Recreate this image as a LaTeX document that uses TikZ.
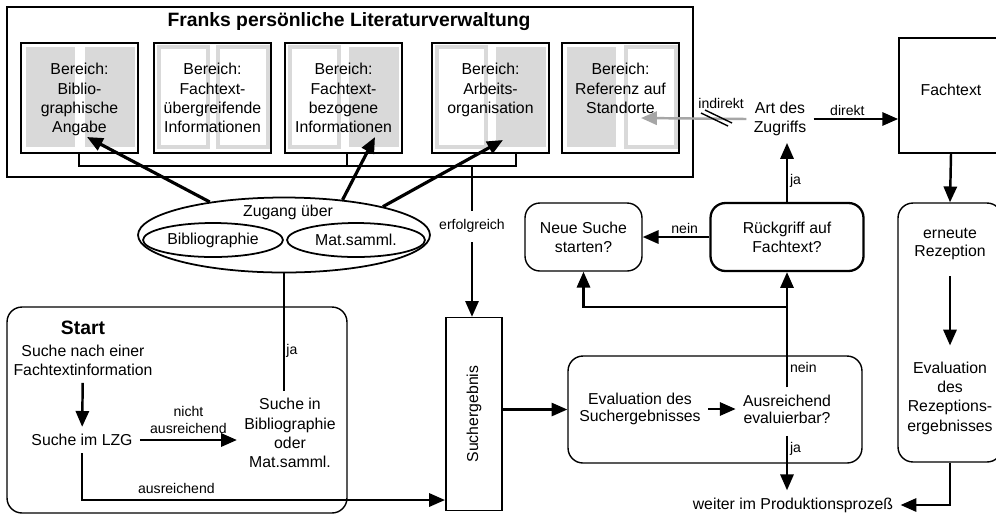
\documentclass[tikz,border=0pt]{standalone}
\usepackage{fontspec}
\setmainfont{Liberation Sans}
\usetikzlibrary{arrows.meta,shapes.geometric}

\tikzset{
  pfeil/.style={line width=1.4pt,-{Triangle[length=9pt,width=7.5pt]}},
  dickpfeil/.style={line width=1.8pt,-{Triangle[length=9pt,width=7.5pt]}},
  txt/.style={font=\fontsize{9}{11}\selectfont,align=center,inner sep=4pt},
  klein/.style={font=\fontsize{8}{9.5}\selectfont,align=center,inner sep=1pt},
  fett/.style={font=\bfseries\fontsize{11}{13}\selectfont},
  bereich/.style={draw,line width=0.8pt,minimum width=2.34cm,minimum height=2.2cm,inner sep=0pt,outer sep=0pt},
  rund/.style={draw,line width=0.8pt,rounded corners=8.5pt,align=center,font=\fontsize{9}{11}\selectfont,inner sep=0pt},
  voll/.style={fill=black!15},
  leer/.style={draw=black!15,line width=2pt},
}

\begin{document}
\begin{tikzpicture}[x=0.02cm,y=-0.02cm]
  \fill[white] (0,0) rectangle (996,515);
  \useasboundingbox (0,0) rectangle (996,515);

  % Literaturverwaltung
  \draw[line width=1pt] (7,7) rectangle (693,177);
  \node[fett] (titel) at (349,22) {Franks persönliche Literaturverwaltung};

  \foreach \x/\l/\r/\n/\t in {21/voll/voll/b1/{Bereich:\\Biblio-\\graphische\\Angabe},
      154/leer/leer/b2/{Bereich:\\Fachtext-\\übergreifende\\Informationen},
      285/leer/voll/b3/{Bereich:\\Fachtext-\\bezogene\\Informationen},
      432/leer/voll/b4/{Bereich:\\Arbeits-\\organisation},
      562/voll/leer/b5/{Bereich:\\Referenz auf\\Standorte}}{
    \path[\l] (\x+5,47) rectangle (\x+54,147);
    \path[\r] (\x+64,47) rectangle (\x+114,147);
    \node[bereich] (\n) at (\x+58.5,98) {};
    \node[txt,anchor=north,inner sep=0pt] at (\x+58.5,63) {\t};
  }

  % Klammer unter den Bereichen
  \coordinate (klammer) at (472,166);
  \draw[line width=0.8pt] (79,153) |- (516,166) -- (516,153);
  \draw[line width=0.8pt] (347,153) -- (347,166);

  % Zugang
  \node[draw,ellipse,line width=1pt,minimum width=5.84cm,minimum height=1.5cm,inner sep=0pt] (zugang) at (284,235) {};
  \node[txt] (zugtxt) at (288,212) {Zugang über};
  \node[draw,ellipse,line width=1pt,minimum width=2.8cm,minimum height=0.68cm,txt,inner sep=0pt] (bib) at (213,240) {Bibliographie};
  \node[draw,ellipse,line width=1pt,minimum width=2.76cm,minimum height=0.68cm,txt,inner sep=0pt] (mat) at (356,240) {Mat.samml.};

  \coordinate (z1) at (87,137);
  \coordinate (z3) at (375,137);
  \coordinate (z4) at (503,140);
  \draw[dickpfeil] (zugang.156) -- (z1);
  \draw[dickpfeil] (zugang.31) -- (z3);
  \draw[dickpfeil] (zugang.16) -- (z4);

  % Start
  \node[rund,minimum width=6.8cm,minimum height=4.12cm] (start) at (177,410) {};
  \node[fett] (starttxt) at (83,328) {Start};
  \node[txt] (suche) at (83,360) {Suche nach einer\\Fachtextinformation};
  \node[txt] (lzg) at (82,440) {Suche im LZG};
  \node[txt] (suchein) at (290,433) {Suche in\\Bibliographie\\oder\\Mat.samml.};

  \draw[pfeil] (suche) -- (lzg);
  \draw[pfeil] (lzg.east) -- node[klein,above=2pt] {nicht\\ausreichend} (lzg.east -| suchein.west);
  \draw[line width=0.8pt] (zugang.south) -- node[klein,right,pos=0.66] {ja} (zugang.south |- suchein.north);

  % Suchergebnis
  \node[draw,line width=0.8pt,minimum width=1.12cm,minimum height=3.86cm] (such) at (474,414) {};
  \node[txt,rotate=90] at (such.center) {Suchergebnis};
  \draw[pfeil] (klammer) -- node[klein,fill=white,inner ysep=5pt,pos=0.4] {erfolgreich} (klammer |- such.north);
  \coordinate (ausr) at (445,500);
  \draw[pfeil] (lzg) |- node[klein,above=2pt,pos=0.63] {ausreichend} (ausr);

  % Evaluation
  \node[rund,minimum width=5.88cm,minimum height=2.14cm] (evalbox) at (715,409.5) {};
  \node[txt,font=\fontsize{9}{9.5}\selectfont] (evaltxt) at (640,409) {Evaluation des\\Suchergebnisses};
  \node[txt,font=\fontsize{9}{9.5}\selectfont] (ausreich) at (787,409) {Ausreichend\\evaluierbar?};
  \draw[pfeil] (such.east |- evalbox.west) -- (evalbox.west);
  \draw[pfeil] (evaltxt.east) -- (evaltxt.east -| ausreich.west);

  \node[txt] (weiter) at (793,505) {weiter im Produktionsprozeß};
  \draw[pfeil,shorten <=3pt] (ausreich.south) -- node[klein,right,pos=0.3] {ja} (ausreich.south |- weiter.north);

  % Rueckgriff
  \node[rund,line width=1.3pt,minimum width=3.06cm,minimum height=1.36cm] (rueck) at (787,237) {Rückgriff auf\\Fachtext?};
  \node[rund,minimum width=2.34cm,minimum height=1.36cm] (neue) at (583.5,237) {Neue Suche\\starten?};
  \coordinate (abzw) at (787,307);
  \draw[pfeil] (ausreich.north) -- node[klein,right,pos=0.17] {nein} (rueck.south);
  \draw[pfeil] (abzw) -| (neue.south);
  \draw[pfeil] (rueck.west) -- node[klein,above,pos=0.37] {nein} (neue.east);

  % Art des Zugriffs
  \node[txt,font=\fontsize{9}{10.5}\selectfont] (art) at (780,119) {Art des\\Zugriffs};
  \draw[pfeil] (rueck.north) -- node[klein,right,pos=0.36] {ja} (rueck.north |- art.south);

  \node[draw,line width=1pt,minimum width=2.08cm,minimum height=2.3cm] (fach) at (951,95.5) {};
  \node[txt] (fachtxt) at (951,90) {Fachtext};
  \draw[pfeil] (art.east) -- node[klein,above,pos=0.4] {direkt} (art.east -| fach.west);

  \coordinate (z5) at (641,118);
  \draw[pfeil,draw=black!35,fill=black!35] (art.west) -- node[klein,above=4pt,pos=0.24,text=black] {indirekt} (z5);
  \draw[line width=0.8pt] (701,113) -- (728,126) (705,110) -- (732,123);

  % Rezeption
  \node[rund,minimum width=2.08cm,minimum height=5.18cm] (rez) at (950,332.5) {};
  \node[txt,font=\fontsize{9}{10.5}\selectfont] (ern) at (950,244) {erneute\\Rezeption};
  \node[txt] (evr) at (950,398) {Evaluation\\des\\Rezeptions-\\ergebnisses};
  \draw[pfeil] (fach.south) -- (rez.north);
  \draw[pfeil,shorten <=5pt,shorten >=5pt] (ern) -- (evr);
  \draw[pfeil] (rez.south) |- (weiter.east);
\end{tikzpicture}
\end{document}
